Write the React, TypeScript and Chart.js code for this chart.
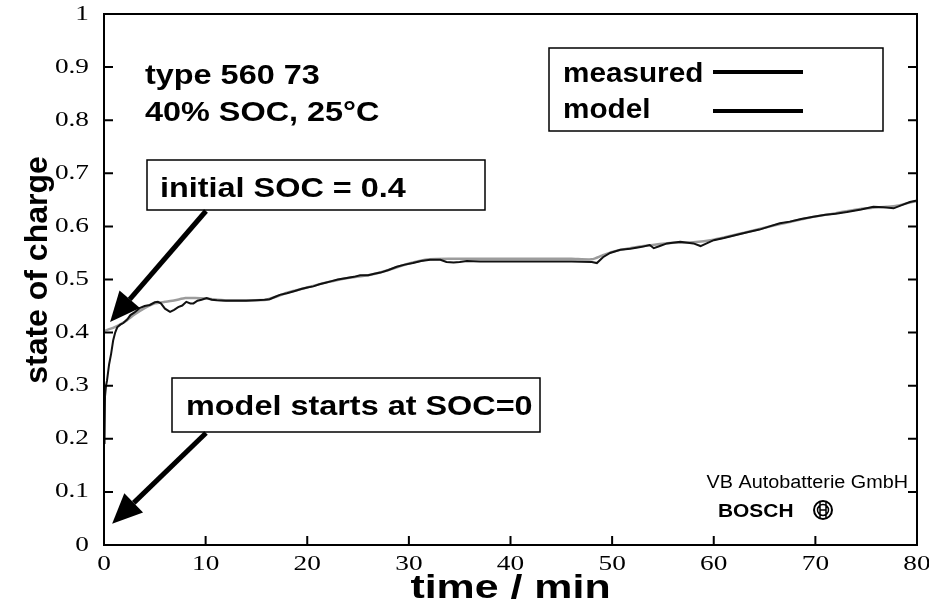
import React, { useEffect, useRef } from "react";
import { Chart, registerables } from "chart.js";

Chart.register(...registerables);

// ---- data ----
const measuredTime = [
  0.05, 0.1, 0.2, 0.3, 0.5, 0.7, 0.9, 1.1, 1.3, 1.6, 1.9, 2.3, 2.6, 3.0, 3.5, 4.0, 4.5, 5.0, 5.3, 5.6,
  6.0, 6.5, 6.9, 7.3, 7.7, 8.1, 8.5, 8.8, 9.2, 9.6, 10.1, 10.6, 11.1, 12, 13, 14, 15, 15.8, 16.3, 16.8,
  17.3, 18, 18.7, 19.4, 20, 20.6, 21.2, 21.8, 22.4, 23, 23.9, 24.6, 25.2, 26, 26.6, 27.2, 28, 28.8, 29.6,
  30.4, 31.2, 32.1, 33.1, 33.7, 34.4, 35, 35.7, 37, 40, 43, 46, 48, 48.5, 49.1, 49.8, 50.8, 51.8, 52.8,
  53.7, 54.1, 54.7, 55.4, 56.7, 58, 58.7, 59.3, 60, 61, 62, 63.3, 64.5, 65.5, 66.5, 67.5, 68.6, 69.8, 71,
  72, 73.1, 74.5, 75.7, 76.7, 77.7, 78.5, 79.3, 80,
];
const measuredSoc = [
  0.19, 0.28, 0.3, 0.31, 0.34, 0.36, 0.385, 0.4, 0.41, 0.415, 0.418, 0.425, 0.433, 0.438, 0.446, 0.45,
  0.452, 0.457, 0.458, 0.455, 0.445, 0.439, 0.443, 0.448, 0.451, 0.458, 0.455, 0.455, 0.46, 0.462, 0.465,
  0.462, 0.461, 0.46, 0.46, 0.46, 0.461, 0.462, 0.463, 0.467, 0.471, 0.474, 0.478, 0.482, 0.485, 0.487,
  0.491, 0.494, 0.497, 0.5, 0.503, 0.505, 0.508, 0.508, 0.511, 0.513, 0.518, 0.524, 0.528, 0.531, 0.535,
  0.537, 0.537, 0.533, 0.532, 0.533, 0.535, 0.534, 0.534, 0.534, 0.534, 0.533, 0.531, 0.542, 0.55, 0.556,
  0.558, 0.561, 0.565, 0.559, 0.563, 0.568, 0.571, 0.568, 0.563, 0.568, 0.574, 0.578, 0.583, 0.589, 0.594,
  0.6, 0.606, 0.609, 0.614, 0.618, 0.622, 0.624, 0.627, 0.632, 0.637, 0.636, 0.634, 0.64, 0.646, 0.649,
];
const modelTime = [
  0, 1, 2, 3, 4, 5, 6, 7, 8, 9, 10, 12, 14, 16, 17, 18, 20, 22, 24, 26, 28, 30, 32, 34, 40, 46, 48, 49,
  50, 52, 54, 56, 58, 60, 63, 66, 69, 72, 75, 77, 78, 80,
];
const modelSoc = [
  0.403, 0.41, 0.42, 0.434, 0.446, 0.455, 0.458, 0.461, 0.465, 0.465, 0.464, 0.461, 0.461, 0.462, 0.468,
  0.475, 0.485, 0.495, 0.503, 0.508, 0.518, 0.53, 0.538, 0.539, 0.539, 0.539, 0.538, 0.545, 0.552, 0.56,
  0.565, 0.569, 0.57, 0.575, 0.588, 0.602, 0.615, 0.625, 0.634, 0.637, 0.639, 0.648,
];
const xTickValues = [0, 10, 20, 30, 40, 50, 60, 70, 80];
const yTickValues = [0, 0.1, 0.2, 0.3, 0.4, 0.5, 0.6, 0.7, 0.8, 0.9, 1];
const yTickLabels = ["0", "0.1", "0.2", "0.3", "0.4", "0.5", "0.6", "0.7", "0.8", "0.9", "1"];
const seriesNames = ["measured", "model"];
const xTitle = "time / min";
const yTitle = "state of charge";
const infoLines = ["type 560 73", "40% SOC, 25°C"];
const noteInitial = "initial SOC = 0.4";
const noteModel = "model starts at SOC=0";
const creditLine = "VB Autobatterie GmbH";
const creditBrand = "BOSCH";

const SANS = '"Liberation Sans", Arial, Helvetica, sans-serif';
const SERIF = '"Liberation Serif", "Times New Roman", serif';

function stretchText(
  ctx: CanvasRenderingContext2D,
  s: string,
  x: number,
  y: number,
  font: string,
  sx: number,
  align: CanvasTextAlign = "left",
  baseline: CanvasTextBaseline = "alphabetic"
) {
  ctx.save();
  ctx.font = font;
  ctx.textAlign = align;
  ctx.textBaseline = baseline;
  ctx.fillStyle = "#000";
  ctx.translate(x, y);
  ctx.scale(sx, 1);
  ctx.fillText(s, 0, 0);
  ctx.restore();
}

function arrow(
  ctx: CanvasRenderingContext2D,
  x1: number,
  y1: number,
  x2: number,
  y2: number,
  headLen: number,
  headW: number,
  lw: number
) {
  const a = Math.atan2(y2 - y1, x2 - x1);
  const bx = x2 - headLen * Math.cos(a);
  const by = y2 - headLen * Math.sin(a);
  ctx.save();
  ctx.strokeStyle = "#000";
  ctx.fillStyle = "#000";
  ctx.lineWidth = lw;
  ctx.beginPath();
  ctx.moveTo(x1, y1);
  ctx.lineTo(bx, by);
  ctx.stroke();
  const nx = -Math.sin(a) * headW * 0.5;
  const ny = Math.cos(a) * headW * 0.5;
  ctx.beginPath();
  ctx.moveTo(x2, y2);
  ctx.lineTo(bx + nx, by + ny);
  ctx.lineTo(bx - nx, by - ny);
  ctx.closePath();
  ctx.fill();
  ctx.restore();
}

const decorPlugin = {
  id: "decor",
  afterDraw(chart: any) {
    const ctx: CanvasRenderingContext2D = chart.ctx;
    const area = chart.chartArea;
    const xs = chart.scales.x;
    const ys = chart.scales.y;

    // frame
    ctx.save();
    ctx.strokeStyle = "#000";
    ctx.lineWidth = 2;
    ctx.strokeRect(area.left, area.top, area.right - area.left, area.bottom - area.top);

    // inward tick marks
    const tl = 9;
    ctx.beginPath();
    yTickValues.forEach((v) => {
      const py = ys.getPixelForValue(v);
      ctx.moveTo(area.left, py);
      ctx.lineTo(area.left + tl, py);
      ctx.moveTo(area.right, py);
      ctx.lineTo(area.right - tl, py);
    });
    xTickValues.forEach((v) => {
      const px = xs.getPixelForValue(v);
      ctx.moveTo(px, area.bottom);
      ctx.lineTo(px, area.bottom - tl);
    });
    ctx.stroke();
    ctx.restore();

    // tick labels
    const tickFont = `21px ${SERIF}`;
    yTickValues.forEach((v, i) => {
      stretchText(ctx, yTickLabels[i], area.left - 15, ys.getPixelForValue(v), tickFont, 1.3, "right", "middle");
    });
    xTickValues.forEach((v) => {
      stretchText(ctx, String(v), xs.getPixelForValue(v), area.bottom + 19, tickFont, 1.3, "center", "middle");
    });

    // axis titles
    const titleFont = `bold 33px ${SANS}`;
    stretchText(ctx, xTitle, (area.left + area.right) / 2, 598, titleFont, 1.3, "center", "alphabetic");
    ctx.save();
    ctx.font = `bold 32px ${SANS}`;
    ctx.fillStyle = "#000";
    ctx.textAlign = "center";
    ctx.textBaseline = "middle";
    ctx.translate(38, 270);
    ctx.rotate(-Math.PI / 2);
    ctx.fillText(yTitle, 0, 0);
    ctx.restore();

    // info text
    const noteFont = `bold 27px ${SANS}`;
    stretchText(ctx, infoLines[0], 145, 84, noteFont, 1.2);
    stretchText(ctx, infoLines[1], 145, 121, noteFont, 1.2);

    // legend
    ctx.save();
    ctx.fillStyle = "#fff";
    ctx.fillRect(549, 48, 334, 83);
    ctx.strokeStyle = "#000";
    ctx.lineWidth = 1.5;
    ctx.strokeRect(549, 48, 334, 83);
    ctx.lineWidth = 4;
    ctx.beginPath();
    ctx.moveTo(713, 72);
    ctx.lineTo(803, 72);
    ctx.moveTo(713, 111);
    ctx.lineTo(803, 111);
    ctx.stroke();
    ctx.restore();
    stretchText(ctx, seriesNames[0], 563, 82, noteFont, 1.1);
    stretchText(ctx, seriesNames[1], 563, 118, noteFont, 1.1);

    // annotation boxes
    ctx.save();
    ctx.fillStyle = "#fff";
    ctx.strokeStyle = "#000";
    ctx.lineWidth = 1.5;
    ctx.fillRect(147, 160, 338, 50);
    ctx.strokeRect(147, 160, 338, 50);
    ctx.fillRect(172, 378, 368, 54);
    ctx.strokeRect(172, 378, 368, 54);
    ctx.restore();
    stretchText(ctx, noteInitial, 160, 197, noteFont, 1.2);
    stretchText(ctx, noteModel, 186, 415, noteFont, 1.2);

    // arrows pointing at data locations
    arrow(ctx, 206, 211, xs.getPixelForValue(0.6), ys.getPixelForValue(0.42), 30, 27, 5);
    arrow(ctx, 206, 433, xs.getPixelForValue(0.8), ys.getPixelForValue(0.04), 30, 27, 5);

    // credit
    stretchText(ctx, creditLine, 908, 488, `18px ${SANS}`, 1.1, "right");
    stretchText(ctx, creditBrand, 718, 517, `bold 19px ${SANS}`, 1.1, "left");
    // bosch armature logo
    ctx.save();
    ctx.strokeStyle = "#000";
    ctx.lineWidth = 2;
    const cx = 823;
    const cy = 510;
    ctx.beginPath();
    ctx.arc(cx, cy, 9, 0, Math.PI * 2);
    ctx.stroke();
    ctx.lineWidth = 1.5;
    ctx.beginPath();
    ctx.arc(cx, cy, 5.5, 0, Math.PI * 2);
    ctx.moveTo(cx - 3, cy - 8);
    ctx.lineTo(cx - 3, cy + 8);
    ctx.moveTo(cx + 3, cy - 8);
    ctx.lineTo(cx + 3, cy + 8);
    ctx.moveTo(cx - 3, cy);
    ctx.lineTo(cx + 3, cy);
    ctx.stroke();
    ctx.restore();
  },
};

export default function App() {
  const canvasRef = useRef<HTMLCanvasElement | null>(null);

  useEffect(() => {
    const canvas = canvasRef.current;
    if (!canvas) return;
    const chart = new Chart(canvas, {
      type: "line",
      data: {
        datasets: [
          {
            label: seriesNames[0],
            data: measuredTime.map((t, i) => ({ x: t, y: measuredSoc[i] })),
            borderColor: "#111111",
            borderWidth: 2,
            pointRadius: 0,
            tension: 0,
            fill: false,
          },
          {
            label: seriesNames[1],
            data: modelTime.map((t, i) => ({ x: t, y: modelSoc[i] })),
            borderColor: "#9c9c9c",
            borderWidth: 2.5,
            pointRadius: 0,
            tension: 0.2,
            fill: false,
          },
        ],
      },
      options: {
        responsive: false,
        animation: false,
        layout: { padding: { left: 0, right: 12, top: 14, bottom: 0 } },
        plugins: { legend: { display: false }, tooltip: { enabled: false } },
        scales: {
          x: {
            type: "linear",
            min: 0,
            max: 80,
            grid: { display: false },
            border: { display: false },
            ticks: { display: false, stepSize: 10 },
            afterFit: (scale: any) => {
              scale.height = 64;
            },
          },
          y: {
            type: "linear",
            min: 0,
            max: 1,
            grid: { display: false },
            border: { display: false },
            ticks: { display: false, stepSize: 0.1 },
            afterFit: (scale: any) => {
              scale.width = 104;
            },
          },
        },
      },
      plugins: [decorPlugin],
    });
    return () => chart.destroy();
  }, []);

  return (
    <div style={{ position: "absolute", left: 0, top: 0, width: 929, height: 609, background: "#fff" }}>
      <canvas ref={canvasRef} width={929} height={609} style={{ width: 929, height: 609, display: "block" }} />
    </div>
  );
}
